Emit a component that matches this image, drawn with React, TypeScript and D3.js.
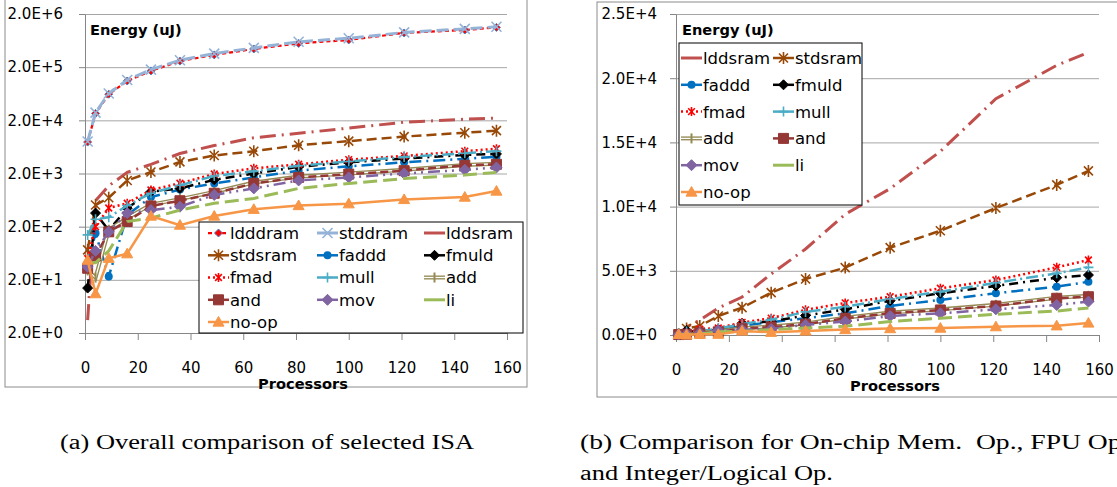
import React, { useEffect, useRef } from 'react';
import * as d3 from 'd3';

// processor counts (x values)
const processors = [1, 4, 9, 16, 25, 36, 49, 64, 81, 100, 121, 144, 156];

// energy per op type (uJ)
const ldddram = [7800, 27000, 62000, 110000, 170000, 260000, 340000, 440000, 560000, 650000, 880000, 1000000, 1120000];
const stddram = [8000, 28000, 64000, 115000, 180000, 270000, 360000, 460000, 600000, 700000, 900000, 1050000, 1150000];
const lddsram = [3.5, 620, 1170, 2100, 2960, 4750, 6700, 9400, 11400, 14300, 18400, 21000, 22000];
const stdsram = [73, 510, 700, 1480, 2130, 3300, 4360, 5250, 6800, 8120, 9890, 11690, 12780];
const faddd = [40, 150, 23, 330, 720, 1000, 1300, 1690, 2260, 2730, 3250, 3760, 4150];
const fmuld = [14, 360, 170, 445, 910, 1050, 1520, 2000, 2670, 3250, 3820, 4460, 4670];
const fmad = [50, 200, 450, 550, 980, 1310, 1960, 2500, 2980, 3640, 4280, 5270, 5840];
const mull = [140, 275, 300, 500, 850, 1200, 1800, 2200, 2800, 3370, 4070, 4800, 5270];
const addOp = [30, 22, 175, 290, 520, 660, 900, 1350, 1750, 2000, 2350, 2900, 3050];
const andOp = [33, 56, 160, 250, 490, 615, 850, 1300, 1690, 1950, 2260, 2860, 2980];
const mov = [35, 70, 160, 360, 410, 475, 790, 1050, 1480, 1690, 2000, 2340, 2600];
const li = [42, 42, 70, 250, 290, 410, 550, 680, 1050, 1300, 1610, 1870, 2100];
const noOp = [47, 11, 51, 62, 317, 214, 317, 425, 500, 540, 650, 720, 935];

const xTicks = [0, 20, 40, 60, 80, 100, 120, 140, 160];
const logTicks = [2, 20, 200, 2000, 20000, 200000, 2000000];
const linTicks = [0, 5000, 10000, 15000, 20000, 25000];

const seriesValues: Record<string, number[]> = {
  ldddram, stddram, lddsram, stdsram, faddd, fmuld, fmad, mull,
  add: addOp, and: andOp, mov, li, 'no-op': noOp,
};

const leftNames = ['ldddram', 'stddram', 'lddsram', 'stdsram', 'faddd', 'fmuld', 'fmad', 'mull', 'add', 'and', 'mov', 'li', 'no-op'];
const rightNames = ['lddsram', 'stdsram', 'faddd', 'fmuld', 'fmad', 'mull', 'add', 'and', 'mov', 'li', 'no-op'];

const FONT = 'DejaVu Sans, sans-serif';

const styles: Record<string, any> = {
  ldddram: { color: '#FF0000', width: 2.25, dash: '4,3', legDash: '4,3', marker: 'diamond', r: 4, fill: '#FF0000', stroke: '#4F81BD' },
  stddram: { color: '#95B3D7', width: 3, dash: '12,5', marker: 'cross', r: 5 },
  lddsram: { color: '#C0504D', width: 3, dash: '16,6,2,6', marker: 'none', r: 0 },
  stdsram: { color: '#984807', width: 2.5, dash: '10,5', marker: 'asterisk', r: 6 },
  faddd: { color: '#0070C0', width: 2.5, dash: '12,5,2,5', marker: 'circle', r: 4 },
  fmuld: { color: '#000000', width: 2.5, dash: '9,5,2,5', marker: 'diamond', r: 5 },
  fmad: { color: '#FF0000', width: 2.5, dash: '2,3', legDash: '2,3', marker: 'asterisk', r: 4.5 },
  mull: { color: '#4BACC6', width: 2.5, dash: '12,4,2,4', marker: 'plus', r: 5 },
  add: { color: '#948A54', width: 4, dash: null, marker: 'bar', r: 5, double: true },
  and: { color: '#953735', width: 2.5, dash: '8,4', marker: 'square', r: 5 },
  mov: { color: '#8064A2', width: 2.5, dash: '12,5,2,5,2,5', marker: 'diamond', r: 5.5 },
  li: { color: '#9BBB59', width: 3, dash: '14,6', marker: 'none', r: 0 },
  'no-op': { color: '#F79646', width: 2.5, dash: null, marker: 'triangle', r: 5.5 },
};

const fmtE = (v: number) => {
  if (v === 0) return '0.0E+0';
  const e = Math.floor(Math.log10(v) + 1e-9);
  return `${(v / Math.pow(10, e)).toFixed(1)}E+${e}`;
};

const markerPath = (type: string, x: number, y: number, r: number) => {
  switch (type) {
    case 'diamond': return `M${x},${y - r}L${x + r},${y}L${x},${y + r}L${x - r},${y}Z`;
    case 'square': return `M${x - r},${y - r}h${2 * r}v${2 * r}h${-2 * r}Z`;
    case 'triangle': return `M${x},${y - r}L${x + r},${y + r * 0.75}L${x - r},${y + r * 0.75}Z`;
    case 'cross': return `M${x - r},${y - r}L${x + r},${y + r}M${x - r},${y + r}L${x + r},${y - r}`;
    case 'plus': return `M${x - r},${y}L${x + r},${y}M${x},${y - r}L${x},${y + r}`;
    case 'bar': return `M${x},${y - r}L${x},${y + r}`;
    case 'asterisk': {
      const k = r * 0.75;
      return `M${x - k},${y - k}L${x + k},${y + k}M${x - k},${y + k}L${x + k},${y - k}M${x},${y - r}L${x},${y + r}`;
    }
    default: return '';
  }
};

const drawMarker = (g: any, name: string, x: number, y: number) => {
  const s = styles[name];
  if (s.marker === 'none') return;
  if (s.marker === 'circle') {
    g.append('circle').attr('cx', x).attr('cy', y).attr('r', s.r).attr('fill', s.color);
    return;
  }
  const filled = ['diamond', 'square', 'triangle'].includes(s.marker);
  g.append('path')
    .attr('d', markerPath(s.marker, x, y, s.r))
    .attr('fill', filled ? (s.fill || s.color) : 'none')
    .attr('stroke', s.stroke || s.color)
    .attr('stroke-width', filled ? 1 : s.marker === 'bar' ? 2 : 1.6);
};

const drawLine = (g: any, name: string, d: string, dash: string | null) => {
  const s = styles[name];
  g.append('path').attr('d', d).attr('fill', 'none')
    .attr('stroke', s.color).attr('stroke-width', s.width)
    .attr('stroke-dasharray', dash);
  if (s.double) {
    g.append('path').attr('d', d).attr('fill', 'none')
      .attr('stroke', '#fff').attr('stroke-width', 1.3);
  }
};

const drawChart = (svg: any, cfg: any) => {
  const g = svg.append('g');
  const x = d3.scaleLinear().domain([0, 160]).range([cfg.x0, cfg.x1]);
  const y: any = cfg.log
    ? d3.scaleLog().domain([2, 2000000]).range([cfg.yBot, cfg.yTop])
    : d3.scaleLinear().domain([0, 25000]).range([cfg.yBot, cfg.yTop]);

  const [fx0, fy0, fx1, fy1] = cfg.frame;
  g.append('rect').attr('x', fx0).attr('y', fy0).attr('width', fx1 - fx0).attr('height', fy1 - fy0)
    .attr('fill', '#fff').attr('stroke', '#8c8c8c');

  // gridlines
  const grid = g.append('g').attr('transform', `translate(${cfg.x0},0)`)
    .call(d3.axisLeft(y).tickValues(cfg.yTicks).tickSize(-(cfg.x1 - cfg.x0)).tickFormat(() => ''));
  grid.select('.domain').remove();
  grid.selectAll('line').attr('stroke', '#a6a6a6');

  // y axis
  const ya = g.append('g').attr('transform', `translate(${cfg.x0},0)`)
    .call(d3.axisLeft(y).tickValues(cfg.yTicks).tickSize(6).tickSizeOuter(0).tickPadding(cfg.yPad).tickFormat(fmtE));
  ya.select('.domain').attr('stroke', '#868686');
  ya.selectAll('line').attr('stroke', '#868686');
  ya.selectAll('text').attr('font-family', FONT).attr('font-size', 15).attr('fill', '#000');

  // x axis
  const xa = g.append('g').attr('transform', `translate(0,${cfg.yBot})`)
    .call(d3.axisBottom(x).tickValues(xTicks).tickSize(7).tickSizeOuter(0).tickPadding(22).tickFormat(d3.format('d')));
  xa.select('.domain').attr('stroke', '#868686');
  xa.selectAll('line').attr('stroke', '#868686');
  xa.selectAll('text').attr('font-family', FONT).attr('font-size', 15).attr('fill', '#000');

  g.append('text').attr('x', cfg.xTitle[0]).attr('y', cfg.xTitle[1]).attr('text-anchor', 'middle')
    .attr('font-family', FONT).attr('font-size', 14.6).attr('font-weight', 'bold').text('Processors');
  g.append('text').attr('x', cfg.yTitle[0]).attr('y', cfg.yTitle[1])
    .attr('font-family', FONT).attr('font-size', 14.6).attr('font-weight', 'bold').text('Energy (uJ)');

  // series
  const line = d3.line<number>().x((_, i) => x(processors[i])).y((v) => y(v));
  const sg = g.append('g');
  cfg.names.forEach((name: string) => {
    const vals = seriesValues[name];
    drawLine(sg, name, line(vals) as string, styles[name].dash);
    vals.forEach((v, i) => drawMarker(sg, name, x(processors[i]), y(v)));
  });

  // legend
  const [lx0, ly0, lx1, ly1] = cfg.legend.box;
  const lg = g.append('g');
  lg.append('rect').attr('x', lx0).attr('y', ly0).attr('width', lx1 - lx0).attr('height', ly1 - ly0)
    .attr('fill', '#fff').attr('stroke', '#000').attr('stroke-width', 1);
  const ncol = cfg.legend.cols.length;
  cfg.names.forEach((name: string, i: number) => {
    const cx = cfg.legend.cols[i % ncol];
    const cy = cfg.legend.rows[Math.floor(i / ncol)];
    drawLine(lg, name, `M${cx},${cy}H${cx + 21}`, styles[name].legDash || null);
    drawMarker(lg, name, cx + 10.5, cy);
    lg.append('text').attr('x', cx + 22).attr('y', cy).attr('dy', '0.36em')
      .attr('font-family', FONT).attr('font-size', 16.5).attr('fill', '#000').text(name);
  });
};

const App = () => {
  const ref = useRef<SVGSVGElement>(null);

  useEffect(() => {
    const svg = d3.select(ref.current);
    svg.selectAll('*').remove();

    drawChart(svg, {
      log: true, x0: 85, x1: 507, yTop: 14, yBot: 333, yTicks: logTicks, yPad: 16,
      frame: [5, -1, 527, 387], xTitle: [303, 389], yTitle: [90, 35],
      names: leftNames,
      legend: {
        box: [199, 222, 523, 333],
        cols: [208, 317, 424],
        rows: [233, 255.3, 277.5, 299.8, 322],
      },
    });

    drawChart(svg, {
      log: false, x0: 676, x1: 1099, yTop: 14, yBot: 335, yTicks: linTicks, yPad: 13,
      frame: [597, 2, 1130, 397], xTitle: [895, 391], yTitle: [682, 35],
      names: rightNames,
      legend: {
        box: [679, 43, 862, 205],
        cols: [681, 773],
        rows: [58, 84.8, 111.6, 138.4, 165.2, 192],
      },
    });

    // captions
    const cap = (t: string, x: number, y: number) => svg.append('text').attr('x', x).attr('y', y)
      .attr('font-family', 'Liberation Serif, serif').attr('font-size', 20).attr('fill', '#000')
      .style('white-space', 'pre').text(t);
    const a = cap('(a) Overall comparison of selected ISA', 60, 449);
    const natural = (a.node() as SVGTextElement).getComputedTextLength();
    const ratio = 414 / natural;
    const captions: [any, number][] = [
      [a, 1],
      [cap('(b) Comparison for On-chip Mem.  Op., FPU Op.,', 580, 449), 1.045],
      [cap('and Integer/Logical Op.', 580, 480), 1],
    ];
    captions.forEach(([t, k]) => {
      const n = (t.node() as SVGTextElement).getComputedTextLength();
      t.attr('textLength', n * ratio * k).attr('lengthAdjust', 'spacingAndGlyphs');
    });
  }, []);

  return (
    <svg ref={ref} width={1117} height={487} style={{ position: 'absolute', left: 0, top: 0, background: '#fff' }} />
  );
};

export default App;
